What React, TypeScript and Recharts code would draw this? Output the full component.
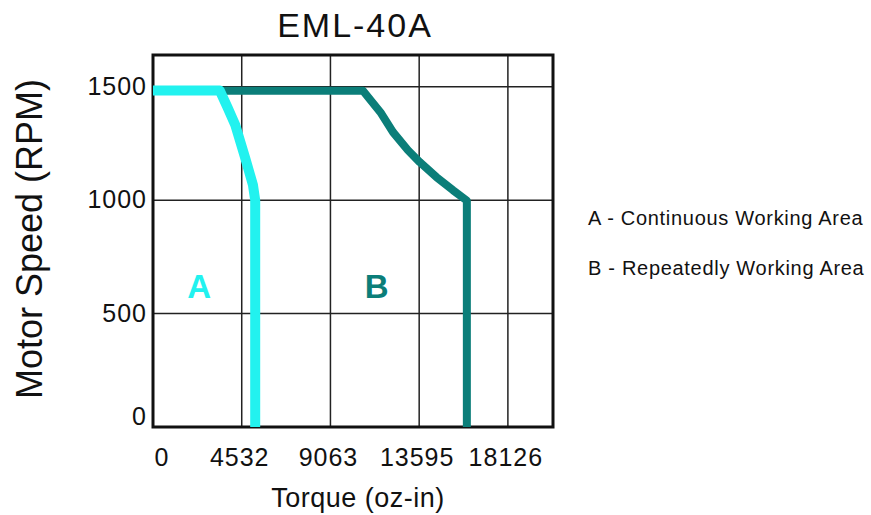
import { LineChart, Line, XAxis, YAxis, CartesianGrid, ReferenceArea, ReferenceDot } from 'recharts'

const torqueTicks = [0, 4532, 9063, 13595, 18126]
const speedTicks = [0, 500, 1000, 1500]

// A - continuous working area
const continuousTorque = [0, 3406, 3800, 4208, 4719, 5107, 5220, 5220]
const continuousSpeed = [1484, 1484, 1410, 1330, 1183, 1066, 1000, 0]

// B - repeatedly working area
const repeatedTorque = [0, 10725, 11613, 12257, 13023, 13620, 14473, 15321, 16030, 16030]
const repeatedSpeed = [1482, 1482, 1388, 1300, 1220, 1168, 1102, 1044, 998, 0]

const areaLetters = ['A', 'B']
const letterTorque = [2355, 11420]
const letterSpeed = [618, 618]

const legendLines = ['A - Continuous Working Area', 'B - Repeatedly Working Area']

const CYAN = '#22f2ef'
const TEAL = '#0b7e79'
const FONT = '"Liberation Sans", Arial, sans-serif'

const continuousData = continuousTorque.map((t, i) => ({ torque: t, speed: continuousSpeed[i] }))
const repeatedData = repeatedTorque.map((t, i) => ({ torque: t, speed: repeatedSpeed[i] }))
const letterColors = [CYAN, TEAL]

const XTick = ({ x, y, payload }: any) => (
    <text
        x={x + (payload.value === 0 ? 9 : -2)}
        y={y + 30}
        textAnchor="middle"
        dominantBaseline="central"
        fontFamily={FONT}
        fontSize={25}
        letterSpacing={1}
        fill="#111"
    >
        {payload.value}
    </text>
)

const YTick = ({ x, y, payload }: any) => (
    <text
        x={x - 6}
        y={y + (payload.value === 0 ? -11 : -1)}
        textAnchor="end"
        dominantBaseline="central"
        fontFamily={FONT}
        fontSize={25}
        letterSpacing={1}
        fill="#111"
    >
        {payload.value}
    </text>
)

export default function App() {
    return (
        <div style={{ position: 'absolute', left: 0, top: 0, width: 871, height: 515, background: '#fff' }}>
            <LineChart width={871} height={515} margin={{ top: 55, right: 318, bottom: 0, left: 0 }}>
                <CartesianGrid stroke="#222" strokeWidth={1.5} />
                <XAxis
                    type="number"
                    dataKey="torque"
                    domain={[0, 20430]}
                    ticks={torqueTicks}
                    height={88}
                    tickSize={0}
                    tickMargin={0}
                    tickLine={false}
                    axisLine={false}
                    tick={<XTick />}
                    allowDataOverflow
                />
                <YAxis
                    type="number"
                    dataKey="speed"
                    domain={[0, 1640]}
                    ticks={speedTicks}
                    width={153}
                    tickSize={0}
                    tickMargin={0}
                    tickLine={false}
                    axisLine={false}
                    tick={<YTick />}
                    allowDataOverflow
                />
                <Line
                    data={repeatedData}
                    dataKey="speed"
                    type="linear"
                    stroke={TEAL}
                    strokeWidth={8}
                    strokeLinejoin="round"
                    dot={false}
                    activeDot={false}
                    isAnimationActive={false}
                />
                <Line
                    data={continuousData}
                    dataKey="speed"
                    type="linear"
                    stroke={CYAN}
                    strokeWidth={10}
                    strokeLinejoin="round"
                    dot={false}
                    activeDot={false}
                    isAnimationActive={false}
                />
                <ReferenceArea x1={0} x2={20430} y1={0} y2={1640} fill="none" stroke="#111" strokeWidth={3} />
                {areaLetters.map((letter, i) => (
                    <ReferenceDot
                        key={letter}
                        x={letterTorque[i]}
                        y={letterSpeed[i]}
                        r={1}
                        shape={(p: any) => (
                            <text
                                x={p.cx}
                                y={p.cy}
                                textAnchor="middle"
                                dominantBaseline="central"
                                fontFamily={FONT}
                                fontWeight="bold"
                                fontSize={33}
                                fill={letterColors[i]}
                            >
                                {letter}
                            </text>
                        )}
                    />
                ))}
            </LineChart>
            <svg width={871} height={515} style={{ position: 'absolute', left: 0, top: 0, pointerEvents: 'none' }}>
                <text x={355} y={37} textAnchor="middle" fontFamily={FONT} fontSize={34} letterSpacing={2} fill="#111">
                    EML-40A
                </text>
                <text
                    x={0}
                    y={0}
                    transform="translate(29 239) rotate(-90)"
                    textAnchor="middle"
                    dominantBaseline="central"
                    fontFamily={FONT}
                    fontSize={36}
                    fill="#111"
                >
                    Motor Speed (RPM)
                </text>
                <text x={358} y={507} textAnchor="middle" fontFamily={FONT} fontSize={27} letterSpacing={0.5} fill="#111">
                    Torque (oz-in)
                </text>
                {legendLines.map((t, i) => (
                    <text key={t} x={588} y={225 + i * 50} fontFamily={FONT} fontSize={20} letterSpacing={0.7} fill="#111">
                        {t}
                    </text>
                ))}
            </svg>
        </div>
    )
}
